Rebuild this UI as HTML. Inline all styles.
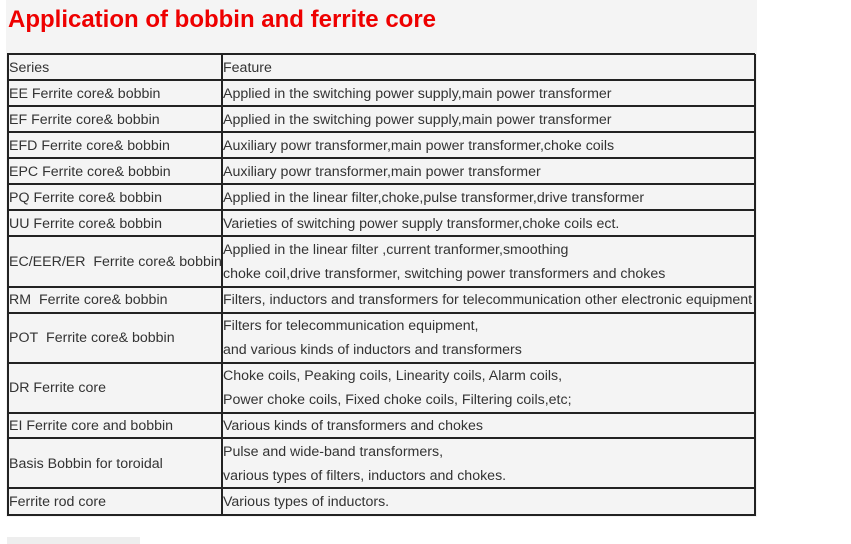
<!DOCTYPE html><html><head><style>
body{margin:0;width:851px;height:544px;background:#fff;position:relative;overflow:hidden;font-family:"Liberation Sans",Arial,sans-serif}
.bg{position:absolute;left:6px;top:0;width:751px;height:517px;background:#f4f4f4}
.t{position:absolute;left:8px;top:6px;color:#e00;font-weight:bold;font-size:24px}
.h{position:absolute;left:7px;width:748px;height:2px;background:#222}
.v{position:absolute;top:54px;width:2px;height:462px;background:#222}
.c{position:absolute;font-size:14.2px;color:#333;line-height:24px;white-space:nowrap}
</style></head><body>
<div class="bg"></div>
<div class="t">Application of bobbin and ferrite core</div>
<div style="position:absolute;left:7px;top:537px;width:133px;height:7px;background:#eee"></div>
<div class="h" style="top:53px"></div><div class="h" style="top:79px"></div><div class="h" style="top:105px"></div><div class="h" style="top:131px"></div><div class="h" style="top:157px"></div><div class="h" style="top:183px"></div><div class="h" style="top:209px"></div><div class="h" style="top:235px"></div><div class="h" style="top:286px"></div><div class="h" style="top:312px"></div><div class="h" style="top:362px"></div><div class="h" style="top:412px"></div><div class="h" style="top:437px"></div><div class="h" style="top:487px"></div><div class="h" style="top:514px"></div>
<div class="v" style="left:7px"></div><div class="v" style="left:221px"></div><div class="v" style="left:754px"></div>
<div class="c" style="left:9px;top:56px">Series</div><div class="c" style="left:223px;top:56px">Feature</div>
<div class="c" style="left:9px;top:82px">EE Ferrite core&amp; bobbin</div><div class="c" style="left:223px;top:82px">Applied in the switching power supply,main power transformer</div>
<div class="c" style="left:9px;top:108px">EF Ferrite core&amp; bobbin</div><div class="c" style="left:223px;top:108px">Applied in the switching power supply,main power transformer</div>
<div class="c" style="left:9px;top:134px">EFD Ferrite core&amp; bobbin</div><div class="c" style="left:223px;top:134px">Auxiliary powr transformer,main power transformer,choke coils</div>
<div class="c" style="left:9px;top:160px">EPC Ferrite core&amp; bobbin</div><div class="c" style="left:223px;top:160px">Auxiliary powr transformer,main power transformer</div>
<div class="c" style="left:9px;top:186px">PQ Ferrite core&amp; bobbin</div><div class="c" style="left:223px;top:186px">Applied in the linear filter,choke,pulse transformer,drive transformer</div>
<div class="c" style="left:9px;top:212px">UU Ferrite core&amp; bobbin</div><div class="c" style="left:223px;top:212px">Varieties of switching power supply transformer,choke coils ect.</div>
<div class="c" style="left:9px;top:250px">EC/EER/ER&nbsp; Ferrite core&amp; bobbin</div><div class="c" style="left:223px;top:238px">Applied in the linear filter ,current tranformer,smoothing<br>choke coil,drive transformer, switching power transformers and chokes</div>
<div class="c" style="left:9px;top:288px">RM&nbsp; Ferrite core&amp; bobbin</div><div class="c" style="left:223px;top:288px">Filters, inductors and transformers for telecommunication other electronic equipment</div>
<div class="c" style="left:9px;top:326px">POT&nbsp; Ferrite core&amp; bobbin</div><div class="c" style="left:223px;top:314px">Filters for telecommunication equipment,<br>and various kinds of inductors and transformers</div>
<div class="c" style="left:9px;top:376px">DR Ferrite core</div><div class="c" style="left:223px;top:364px">Choke coils, Peaking coils, Linearity coils, Alarm coils,<br>Power choke coils, Fixed choke coils, Filtering coils,etc;</div>
<div class="c" style="left:9px;top:414px">EI Ferrite core and bobbin</div><div class="c" style="left:223px;top:414px">Various kinds of transformers and chokes</div>
<div class="c" style="left:9px;top:452px">Basis Bobbin for toroidal</div><div class="c" style="left:223px;top:440px">Pulse and wide-band transformers,<br>various types of filters, inductors and chokes.</div>
<div class="c" style="left:9px;top:490px">Ferrite rod core</div><div class="c" style="left:223px;top:490px">Various types of inductors.</div>
</body></html>
